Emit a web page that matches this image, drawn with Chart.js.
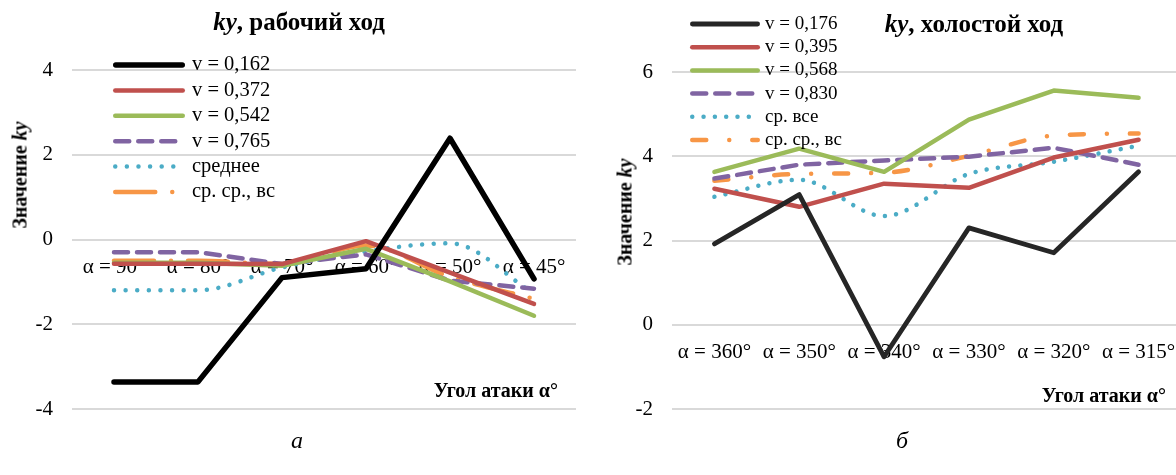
<!DOCTYPE html>
<html>
<head>
<meta charset="utf-8">
<script src="https://cdn.jsdelivr.net/npm/chart.js@4.4.1/dist/chart.umd.min.js"></script>
<style>
  body { margin: 0; width: 1176px; height: 475px; position: relative; overflow: hidden; background: #fff; }
  .box { position: absolute; top: 0; height: 475px; }
  .txt { position: absolute; font-family: 'Liberation Serif', 'Times New Roman', serif; color: #000; white-space: nowrap; transform: translate(-50%, -50%); }
  .ttl { font-size: 25px; font-weight: bold; }
  .ax { font-size: 20px; font-weight: bold; }
  .cap { font-size: 24px; font-style: italic; }
</style>
</head>
<body>
<div class="box" style="left:0;width:590px"><canvas id="chartWork"></canvas></div>
<div class="box" style="left:590px;width:600px"><canvas id="chartIdle"></canvas></div>

<div class="txt ttl" style="left:299px;top:22px"><i>ky</i>, рабочий ход</div>
<div class="txt ttl" style="left:974px;top:24px"><i>ky</i>, холостой ход</div>
<div class="txt ax" style="left:20px;top:175px;transform:translate(-50%,-50%) rotate(-90deg)">Значение <i>ky</i></div>
<div class="txt ax" style="left:625px;top:212px;transform:translate(-50%,-50%) rotate(-90deg)">Значение <i>ky</i></div>
<div class="txt ax" style="left:558px;top:390px;transform:translate(-100%,-50%)">Угол атаки α°</div>
<div class="txt ax" style="left:1166px;top:395px;transform:translate(-100%,-50%)">Угол атаки α°</div>
<div class="txt cap" style="left:297px;top:440px">а</div>
<div class="txt cap" style="left:902px;top:440px">б</div>

<script>
// --- данные: рабочий ход ---
const workCategories = ['α = 90°', 'α = 80°', 'α = 70°', 'α = 60°', 'α = 50°', 'α = 45°'];
const workLabels = ['v = 0,162', 'v = 0,372', 'v = 0,542', 'v = 0,765', 'среднее', 'ср. ср., вс'];
const work_v162 = [-3.36, -3.36, -0.90, -0.69, 2.39, -0.93];
const work_v372 = [-0.57, -0.57, -0.58, -0.04, -0.78, -1.52];
const work_v542 = [-0.55, -0.55, -0.62, -0.22, -0.99, -1.80];
const work_v765 = [-0.30, -0.30, -0.58, -0.35, -0.97, -1.16];
const work_avg = [-1.20, -1.20, -0.66, -0.28, -0.09, -1.28];
const work_avgAvg = [-0.50, -0.50, -0.58, -0.14, -0.88, -1.40];
const workTicks = [-4, -2, 0, 2, 4];

// --- данные: холостой ход ---
const idleCategories = ['α = 360°', 'α = 350°', 'α = 340°', 'α = 330°', 'α = 320°', 'α = 315°'];
const idleLabels = ['v = 0,176', 'v = 0,395', 'v = 0,568', 'v = 0,830', 'ср. все', 'ср. ср., вс'];
const idle_v176 = [1.92, 3.09, -0.76, 2.30, 1.71, 3.63];
const idle_v395 = [3.23, 2.80, 3.35, 3.25, 3.97, 4.39];
const idle_v568 = [3.63, 4.18, 3.63, 4.87, 5.56, 5.39];
const idle_v830 = [3.47, 3.80, 3.90, 3.99, 4.20, 3.80];
const idle_avg = [3.04, 3.44, 2.58, 3.58, 3.87, 4.25];
const idle_avgAvg = [3.42, 3.58, 3.61, 4.01, 4.49, 4.54];
const idleTicks = [-2, 0, 2, 4, 6];

const SERIF = "'Liberation Serif', 'Times New Roman', serif";

// легенда внутри области графика, столбиком
const sideLegend = {
    id: 'sideLegend',
    afterDraw(chart, args, opts) {
        const ctx = chart.ctx;
        ctx.save();
        chart.data.datasets.forEach((ds, i) => {
            const y = opts.top + i * opts.step;
            const cap = ds.borderWidth / 2;
            ctx.beginPath();
            ctx.lineWidth = ds.borderWidth;
            ctx.strokeStyle = ds.borderColor;
            ctx.lineCap = 'round';
            ctx.setLineDash(ds.borderDash || []);
            ctx.moveTo(opts.x1 + cap, y);
            ctx.lineTo(opts.x2 - cap, y);
            ctx.stroke();
            ctx.setLineDash([]);
            ctx.fillStyle = '#000';
            ctx.font = opts.fontSize + 'px ' + SERIF;
            ctx.textBaseline = 'middle';
            ctx.fillText(ds.label, opts.textX, y);
        });
        ctx.restore();
    }
};

function serie(label, data, color, width, dash, smooth) {
    const ds = {
        label: label,
        data: data,
        borderColor: color,
        backgroundColor: color,
        borderWidth: width,
        borderDash: dash || [],
        borderCapStyle: 'round',
        borderJoinStyle: 'round',
        pointRadius: 0,
        fill: false
    };
    if (smooth) ds.cubicInterpolationMode = 'monotone'; // сглаженная линия, как в Excel
    return ds;
}

function makeChart(id, cats, datasets, ticks, yWidth, pad, legendOpts) {
    return new Chart(document.getElementById(id), {
        type: 'line',
        data: { labels: cats, datasets: datasets },
        plugins: [sideLegend],
        options: {
            responsive: true,
            maintainAspectRatio: false,
            animation: false,
            layout: { padding: pad },
            plugins: {
                legend: { display: false },
                tooltip: { enabled: false },
                sideLegend: legendOpts
            },
            scales: {
                x: {
                    type: 'category',
                    position: { y: 0 },
                    offset: true,
                    grid: { display: false },
                    border: { display: false },
                    ticks: { color: '#000', font: { family: SERIF, size: 21 }, padding: 7, maxRotation: 0, autoSkip: false },
                    afterFit: s => { s.height = 0; }
                },
                y: {
                    min: ticks[0],
                    max: ticks[ticks.length - 1],
                    grid: { color: '#d9d9d9', lineWidth: 2, drawTicks: false },
                    border: { display: false },
                    ticks: { stepSize: 2, color: '#000', font: { family: SERIF, size: 21 }, padding: 19 },
                    afterFit: s => { s.width = yWidth; }
                }
            }
        }
    });
}

makeChart('chartWork', workCategories, [
    serie(workLabels[0], work_v162, '#000000', 5.5),
    serie(workLabels[1], work_v372, '#C0504D', 4.5),
    serie(workLabels[2], work_v542, '#9BBB59', 4.5),
    serie(workLabels[3], work_v765, '#8064A2', 4.5, [14, 9]),
    serie(workLabels[4], work_avg, '#4BACC6', 4.5, [0.01, 11.6], true),
    serie(workLabels[5], work_avgAvg, '#F79646', 4.5, [40, 17, 0.01, 17], true)
], workTicks, 72, { left: 0, right: 14, top: 70, bottom: 66 },
   { x1: 113, x2: 185, textX: 192, top: 65, step: 25.4, fontSize: 20.5 });

makeChart('chartIdle', idleCategories, [
    serie(idleLabels[0], idle_v176, '#262626', 4.8),
    serie(idleLabels[1], idle_v395, '#C0504D', 4.5),
    serie(idleLabels[2], idle_v568, '#9BBB59', 4.5),
    serie(idleLabels[3], idle_v830, '#8064A2', 4.5, [14, 9]),
    serie(idleLabels[4], idle_avg, '#4BACC6', 4.5, [0.01, 11.3], true),
    serie(idleLabels[5], idle_avgAvg, '#F79646', 4.5, [14, 23, 0.01, 23], true)
], idleTicks, 82, { left: 0, right: 9, top: 72, bottom: 66 },
   { x1: 100, x2: 170, textX: 175, top: 24, step: 23.2, fontSize: 19 });
</script>
</body>
</html>
